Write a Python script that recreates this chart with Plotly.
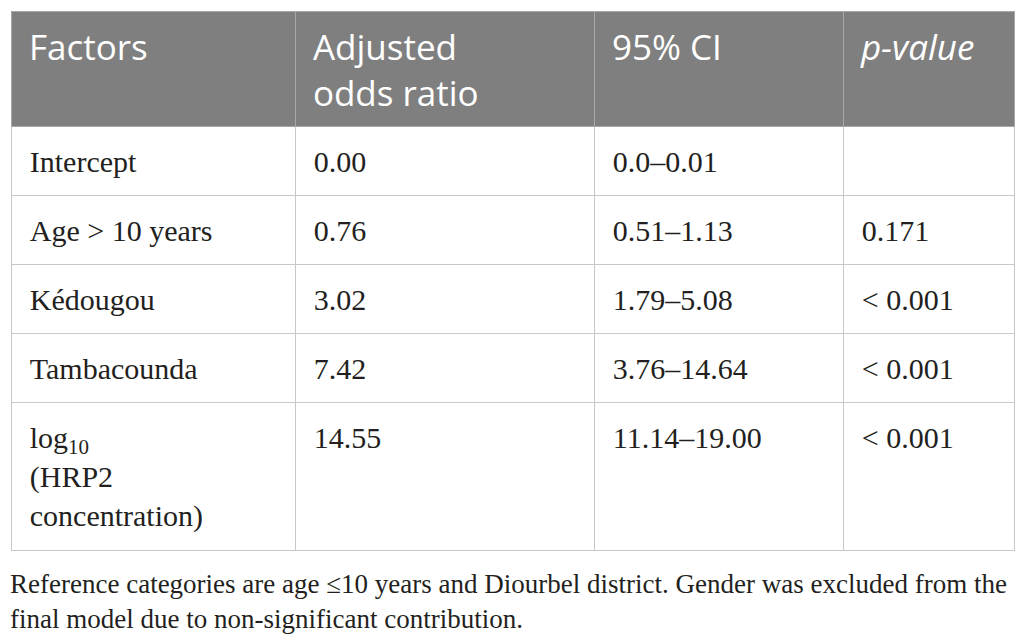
import plotly.graph_objects as go

# column headers and table body
headers = ['Factors', 'Adjusted<br>odds ratio', '95% CI', '<i>p-value</i>']
factors = ['Intercept', 'Age &gt; 10 years', 'Kédougou', 'Tambacounda',
           'log<sub>10</sub><br>(HRP2<br>concentration)']
odds = ['0.00', '0.76', '3.02', '7.42', '14.55']
ci = ['0.0–0.01', '0.51–1.13', '1.79–5.08', '3.76–14.64', '11.14–19.00']
pvals = ['', '0.171', '&lt; 0.001', '&lt; 0.001', '&lt; 0.001']
note = ('Reference categories are age ≤10 years and Diourbel district. Gender was excluded from the<br>'
        'final model due to non-significant contribution.')

W, H = 1025, 640
OFF = 8  # page body margin


def spaced(col, lead, tail=None):
    # a large blank span at the start of each line pushes the text down and indents it
    # (newline instead of a space inside the tag so the table's word wrap leaves it whole)
    sp = f"<span\nstyle='font-size:{lead}px'>&nbsp;</span>"
    out = []
    for s in col:
        if not s:
            out.append(s)
            continue
        s = sp + s.replace('<br>', '<br>' + sp)
        if tail and '<br>' in s:
            s += f"<span\nstyle='font-size:{tail}px'>&nbsp;</span>"
        out.append(s)
    return out


fig = go.Figure(go.Table(
    domain=dict(x=[(11 - OFF) / W, (1014 - OFF) / W], y=[(H - 551 + OFF) / H, (H - 11 + OFF) / H]),
    columnwidth=[284, 299, 249, 171],
    header=dict(values=spaced(headers, 38),
                fill_color='#7f7f7f',
                line=dict(color='#a8a8a8', width=1),
                align='left',
                font=dict(family='Open Sans', size=35, color='white'),
                height=115),
    cells=dict(values=[spaced(factors, 43, 74), spaced(odds, 43), spaced(ci, 43), spaced(pvals, 43)],
               fill_color='white',
               line=dict(color='#c8c8c8', width=1),
               align='left',
               font=dict(family='Liberation Serif', size=30, color='#231f20'),
               height=69),
))

fig.add_annotation(text=note, xref='paper', yref='paper', x=0, y=(H - 559) / H,
                   xanchor='left', yanchor='top', align='left', showarrow=False,
                   font=dict(family='Liberation Serif', size=27, color='#231f20'))

fig.update_layout(width=W, height=H, margin=dict(l=0, r=0, t=0, b=0),
                  paper_bgcolor='white')
fig.write_html('out.html')
